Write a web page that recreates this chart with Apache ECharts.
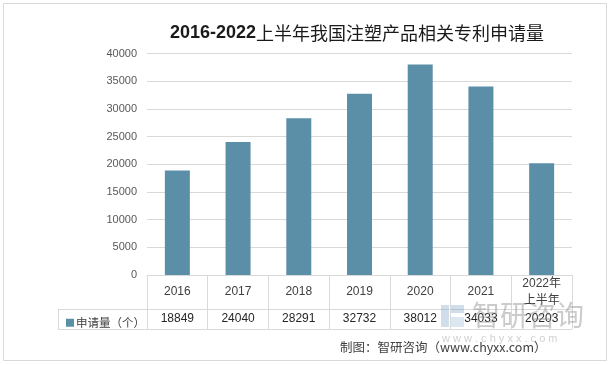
<!DOCTYPE html>
<html>
<head>
<meta charset="utf-8">
<script src="https://cdn.jsdelivr.net/npm/echarts@6/dist/echarts.min.js"></script>
<style>
html,body{margin:0;padding:0;background:#fff;}
#chart{width:611px;height:365px;}
</style>
</head>
<body>
<div id="chart"></div>
<script>
const categories = ['2016', '2017', '2018', '2019', '2020', '2021', '2022年\n上半年'];
const seriesName = '申请量（个）';
const values = [18849, 24040, 28291, 32732, 38012, 34033, 20203];
const yTicks = { min: 0, max: 40000, interval: 5000 };
const titleParts = ['2016-2022', '上半年我国注塑产品相关专利申请量'];
const sourceText = '制图：智研咨询（www.chyxx.com）';

const FONT = '"Liberation Sans", "Noto Sans CJK SC", sans-serif';
const gridColor = '#d9d9d9';
const barColor = '#5b8fa8';

// layout constants
const L = 147, R = 572, T = 53.5, B = 275, tableLeft = 58, rowLine = 309, tableBottom = 329;

const chart = echarts.init(document.getElementById('chart'), null, { renderer: 'canvas' });
chart.setOption({
  backgroundColor: '#fff',
  animation: false,
  title: {
    text: '{a|' + titleParts[0] + '}{b|' + titleParts[1] + '}',
    left: 352, top: 19, textAlign: 'center',
    textStyle: {
      rich: {
        a: { fontFamily: FONT, fontWeight: 'bold', fontSize: 18, color: '#1a1a1a' },
        b: { fontFamily: '"Noto Sans CJK SC", sans-serif', fontWeight: 'normal', fontSize: 18, color: '#1a1a1a' }
      }
    }
  },
  legend: {
    data: [seriesName],
    left: 61, top: 312,
    icon: 'rect', itemWidth: 8, itemHeight: 8, itemGap: 2,
    textStyle: { fontFamily: '"Noto Sans CJK SC", sans-serif', fontSize: 11.5, color: '#404040', padding: [0, 0, 0, -3] }
  },
  grid: { left: L, right: 611 - R, top: T, bottom: 365 - B, containLabel: false },
  xAxis: [
    {
      type: 'category', data: categories, position: 'bottom',
      axisLine: { show: true, lineStyle: { color: gridColor, width: 1 } },
      axisTick: { show: true, length: tableBottom - B, lineStyle: { color: gridColor } },
      axisLabel: { interval: 0, margin: 17, verticalAlign: 'middle', fontFamily: FONT, fontSize: 12, color: '#404040', lineHeight: 17 }
    },
    {
      type: 'category', data: values.map(v => String(v)), position: 'bottom', offset: rowLine - B,
      axisLine: { show: false }, axisTick: { show: false },
      axisLabel: { interval: 0, margin: 10, verticalAlign: 'middle', fontFamily: FONT, fontSize: 12, color: '#262626' }
    }
  ],
  yAxis: {
    type: 'value', min: yTicks.min, max: yTicks.max, interval: yTicks.interval,
    axisLine: { show: false }, axisTick: { show: false },
    axisLabel: { margin: 10, fontFamily: FONT, fontSize: 11, color: '#595959', formatter: v => String(v) },
    splitLine: { lineStyle: { color: gridColor, width: 1 } }
  },
  series: [{
    name: seriesName, type: 'bar', data: values, barWidth: 25,
    itemStyle: { color: barColor }
  }],
  graphic: [
    { type: 'rect', shape: { x: 3.5, y: 3.5, width: 603, height: 357 }, style: { fill: 'none', stroke: '#d9d9d9', lineWidth: 1 }, z: 0 },
    { type: 'line', shape: { x1: tableLeft, y1: rowLine + 0.5, x2: R, y2: rowLine + 0.5 }, style: { stroke: gridColor, lineWidth: 1 } },
    { type: 'line', shape: { x1: tableLeft, y1: tableBottom + 0.5, x2: R, y2: tableBottom + 0.5 }, style: { stroke: gridColor, lineWidth: 1 } },
    { type: 'line', shape: { x1: tableLeft + 0.5, y1: rowLine, x2: tableLeft + 0.5, y2: tableBottom }, style: { stroke: gridColor, lineWidth: 1 } },
    { type: 'text', left: 340, top: 341, style: { text: sourceText, fontFamily: '"Noto Sans CJK SC", sans-serif', fontSize: 12.5, fill: '#404040' }, z: 10 },
    // watermark
    { type: 'rect', shape: { x: 441, y: 305, width: 8, height: 22 }, style: { fill: 'rgba(120,160,200,0.35)' }, z: 20 },
    { type: 'rect', shape: { x: 451, y: 305, width: 13, height: 8 }, style: { fill: 'rgba(120,160,200,0.35)' }, z: 20 },
    { type: 'rect', shape: { x: 451, y: 317, width: 13, height: 10 }, style: { fill: 'rgba(120,160,200,0.25)' }, z: 20 },
    { type: 'text', left: 472, top: 301, style: { text: '智研咨询', fontFamily: '"Noto Sans CJK SC", sans-serif', fontSize: 28, fill: 'rgba(140,140,140,0.45)' }, z: 20 },
    { type: 'text', left: 442, top: 333, style: { text: 'w w w . c h y x x . c o m', fontFamily: FONT, fontSize: 11, fill: 'rgba(150,150,150,0.45)' }, z: 20 }
  ]
});
</script>
</body>
</html>
